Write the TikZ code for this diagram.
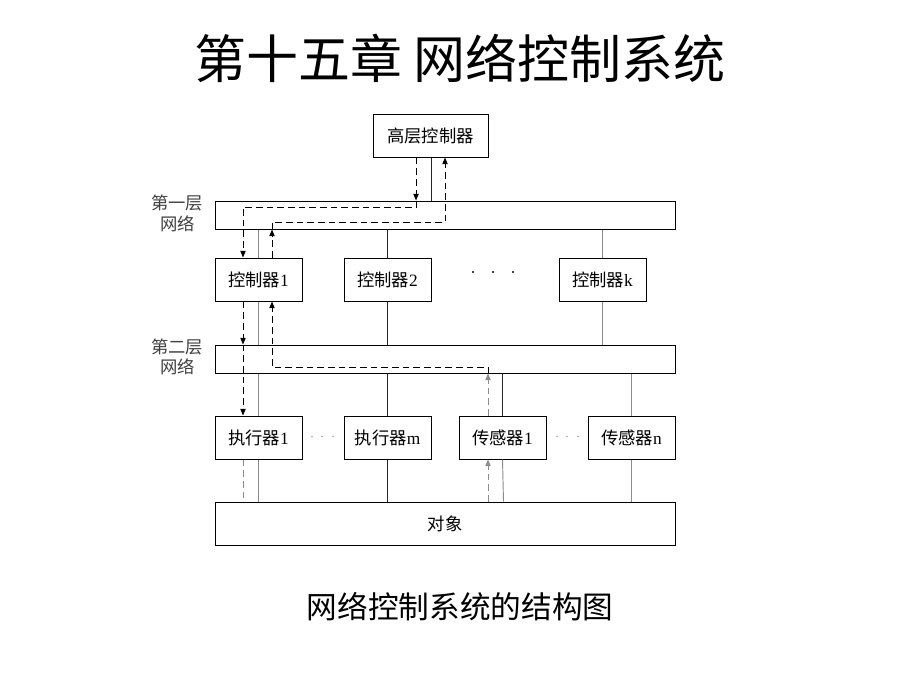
\documentclass[tikz,border=0pt]{standalone}
\usepackage{fontspec}
\newfontfamily\cjk{Noto Sans CJK SC}
\newfontfamily\lat{Liberation Serif}
\usetikzlibrary{arrows.meta,calc}
\newcommand{\lb}[2]{{\cjk #1}{\lat #2}}
\begin{document}
\begin{tikzpicture}[x=0.75pt,y=-0.75pt,
  box/.style={draw=black,line width=0.75pt,fill=white,minimum width=65.25pt,minimum height=32.25pt,inner sep=0pt,font=\fontsize{13}{15}\selectfont},
  bar/.style={draw=black,line width=0.75pt,minimum width=345pt,minimum height=21pt,inner sep=0pt},
  link/.style={line width=0.7pt,draw=black!85},
  glink/.style={line width=0.7pt,draw=black!45},
  dsh/.style={line width=0.75pt,draw=black,dash pattern=on 5pt off 3pt},
  gdsh/.style={line width=0.75pt,draw=black!45,dash pattern=on 5pt off 3pt},
  tip/.style={-{Triangle[length=5pt,width=4pt]}},
  lab/.style={font=\cjk\fontsize{13}{15}\selectfont,text=black!75,inner sep=0pt}
]
\useasboundingbox (0,0) rectangle (920,690);
\fill[white] (0,0) rectangle (920,690);

\node[inner sep=0pt,font=\cjk\fontsize{39}{44}\selectfont] (title) at (460,58) {第十五章 网络控制系统};
\node[inner sep=0pt,font=\cjk\fontsize{23}{26}\selectfont] (cap) at (460,607) {网络控制系统的结构图};

% boxes
\node[box,minimum width=86.25pt] (hc) at (430.5,135.5) {\cjk 高层控制器};
\node[bar] (net1) at (445,215) {};
\node[box] (c1) at (258.5,279.5) {\lb{控制器}{1}};
\node[box] (c2) at (387.5,279.5) {\lb{控制器}{2}};
\node[box] (ck) at (602.5,279.5) {\lb{控制器}{k}};
\node[bar] (net2) at (445,359) {};
\node[box] (a1) at (258.5,437.5) {\lb{执行器}{1}};
\node[box] (am) at (387.5,437.5) {\lb{执行器}{m}};
\node[box] (s1) at (502.5,437.5) {\lb{传感器}{1}};
\node[box] (sn) at (631.5,437.5) {\lb{传感器}{n}};
\node[box,minimum width=345pt] (obj) at (445,523.5) {\cjk 对象};

% side labels
\node[lab] (l1a) at (177,203) {第一层};
\node[lab] (l1b) at (177.5,223.5) {网络};
\node[lab] (l2a) at (177,347) {第二层};
\node[lab] (l2b) at (177.5,367) {网络};

% dots
\foreach \xx [count=\i] in {473,493,513} \fill[black] (\xx,272) circle (0.8pt) coordinate (dk\i);
\foreach \xx [count=\i] in {312,322,333} \fill[black!35] (\xx,436.5) circle (0.6pt) coordinate (da\i);
\foreach \xx [count=\i] in {557,567,578} \fill[black!35] (\xx,436.5) circle (0.6pt) coordinate (ds\i);

% solid links
\draw[link] (hc.south -| 431,0) -- (net1.north -| 431,0);
\draw[glink] (c1.north) -- (c1.north |- net1.south);
\draw[glink] (c1.south) -- (c1.south |- net2.north);
\draw[glink] (a1.north) -- (a1.north |- net2.south);
\draw[glink] (a1.south) -- (a1.south |- obj.north);
\draw[link] (c2.north) -- (c2.north |- net1.south);
\draw[link] (c2.south) -- (c2.south |- net2.north);
\draw[glink] (ck.north) -- (ck.north |- net1.south);
\draw[glink] (ck.south) -- (ck.south |- net2.north);
\draw[link] (am.north) -- (am.north |- net2.south);
\draw[link] (am.south) -- (am.south |- obj.north);
\draw[link] (s1.north) -- (s1.north |- net2.south);
\draw[glink] (s1.south) -- ($(s1.south |- obj.north)+(1,0)$);
\draw[glink] (sn.north) -- (sn.north |- net2.south);
\draw[glink] (sn.south) -- (sn.south |- obj.north);

% named points for dashed routes
\coordinate (p1) at (416,207);
\coordinate (p2) at (243,207);
\coordinate (q1) at (272,222);
\coordinate (q2) at (445,222);
\coordinate (r1) at (488,367);
\coordinate (r2) at (272,367);

% downward path from high-level controller
\draw[dsh,tip] (hc.south -| p1) -- (net1.north -| p1);
\draw[dsh,tip] (net1.north -| p1) -- (p1) -- (p2) -- (c1.north -| p2);
% upward path to high-level controller
\draw[dsh,tip] (c1.north -| q1) -- (net1.south -| q1);
\draw[dsh,tip] (net1.south -| q1) -- (q1) -- (q2) -- (hc.south -| q2);
% controller 1 to actuator 1
\draw[dsh,tip] (c1.south -| p2) -- (net2.north -| p2);
\draw[dsh,tip] (net2.north -| p2) -- (a1.north -| p2);
\draw[gdsh] (a1.south -| p2) -- (obj.north -| p2);
% sensor 1 to controller 1
\draw[gdsh,tip] (obj.north -| r1) -- (s1.south -| r1);
\draw[gdsh,tip] (s1.north -| r1) -- (net2.south -| r1);
\draw[dsh,tip] (net2.south -| r1) -- (r1) -- (r2) -- (c1.south -| r2);
\end{tikzpicture}
\end{document}
